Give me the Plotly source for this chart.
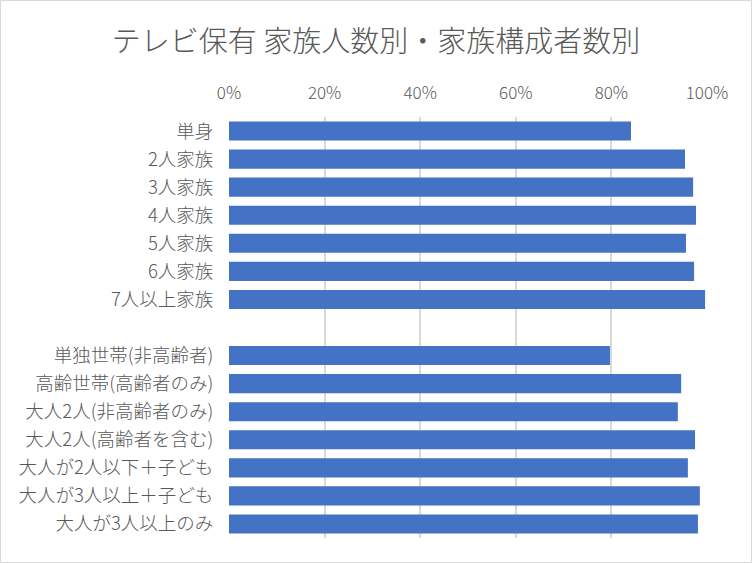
import plotly.graph_objects as go

title_text = "テレビ保有 家族人数別・家族構成者数別"

categories = [
    "単身", "2人家族", "3人家族", "4人家族", "5人家族", "6人家族", "7人以上家族",
    " ",
    "単独世帯(非高齢者)", "高齢世帯(高齢者のみ)", "大人2人(非高齢者のみ)",
    "大人2人(高齢者を含む)", "大人が2人以下＋子ども", "大人が3人以上＋子ども",
    "大人が3人以上のみ",
]
values = [
    0.841, 0.954, 0.971, 0.977, 0.956, 0.973, 0.996,
    None,
    0.797, 0.946, 0.939, 0.975, 0.960, 0.985, 0.981,
]
tick_vals = [0, 0.2, 0.4, 0.6, 0.8, 1.0]
tick_text = ["0%", "20%", "40%", "60%", "80%", "100%"]

FONT = "Noto Sans CJK JP Light, Noto Sans CJK JP DemiLight, Noto Sans CJK JP"
GRAY = "#595959"

fig = go.Figure(go.Bar(
    x=values, y=categories, orientation="h",
    marker=dict(color="#4472C4", line=dict(width=0)),
    hoverinfo="x+y",
))

L, R, T, B = 229, 45, 117, 25
W, H = 752, 563
pw, ph = W - L - R, H - T - B

fig.update_layout(
    width=W, height=H,
    margin=dict(l=L, r=R, t=T, b=B, pad=0),
    paper_bgcolor="white", plot_bgcolor="white",
    font=dict(family=FONT, color=GRAY, size=17, weight=300),
    title=dict(text=title_text, x=0.5, xanchor="center", y=1 - 42 / H, yanchor="middle",
               yref="container", font=dict(family=FONT, size=29, color=GRAY, weight=300)),
    bargap=0.32,
    showlegend=False,
    xaxis=dict(
        side="top", range=[0, 1.0], tickvals=tick_vals, ticktext=tick_text,
        showgrid=True, gridcolor="#d9d9d9", gridwidth=1.5,
        zeroline=False, showline=False,
        ticks="outside", ticklen=10, tickcolor="rgba(0,0,0,0)",
        tickfont=dict(family=FONT, size=17, color=GRAY, weight=300),
    ),
    yaxis=dict(
        categoryorder="array", categoryarray=categories, autorange="reversed",
        showgrid=False, zeroline=False, showline=False,
        ticks="outside", ticklen=11, tickcolor="rgba(0,0,0,0)",
        tickfont=dict(family=FONT, size=18.5, color=GRAY, weight=300),
    ),
    shapes=[dict(
        type="rect", xref="paper", yref="paper",
        x0=(0.5 - L) / pw, x1=(W - 0.5 - L) / pw,
        y0=(0.5 - B) / ph, y1=(H - 0.5 - B) / ph,
        line=dict(color="#d9d9d9", width=1), fillcolor="rgba(0,0,0,0)",
        layer="below",
    )],
)

fig.write_html(
    "out.html",
    config={"displayModeBar": False},
    post_script="document.body.style.margin='0';document.body.style.overflow='hidden';",
)
